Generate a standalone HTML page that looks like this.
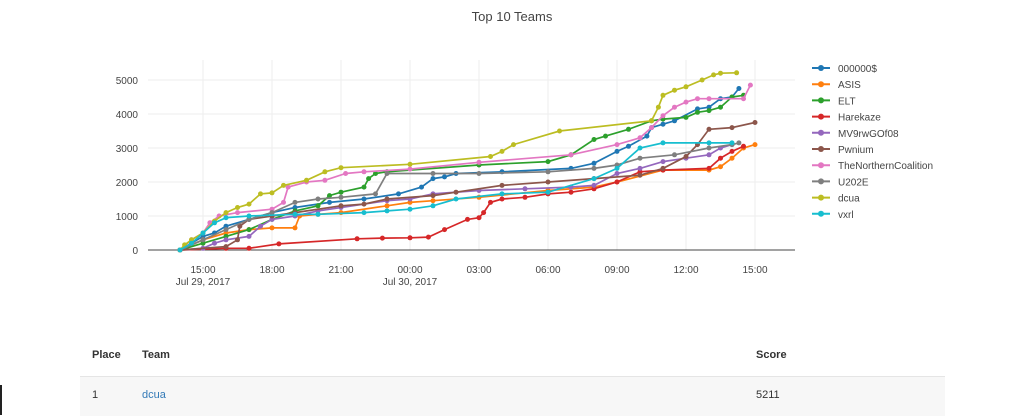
<!DOCTYPE html>
<html><head><style>
body{margin:0;width:1024px;height:415px;overflow:hidden;background:#fff;font-family:"Liberation Sans",sans-serif;position:relative}
.t{position:absolute;font-size:11px;color:#333}
</style></head><body>
<svg id="s" width="1024" height="330" style="position:absolute;left:0;top:0" font-family="Liberation Sans, sans-serif"></svg>
<div style="position:absolute;left:80px;top:376px;width:865px;height:39px;background:#f7f7f7;border-top:1px solid #e5e5e5"></div>
<div class="t" style="left:92px;top:349px;font-weight:bold">Place</div>
<div class="t" style="left:142px;top:349px;font-weight:bold">Team</div>
<div class="t" style="left:756px;top:349px;font-weight:bold">Score</div>
<div class="t" style="left:92px;top:389px">1</div>
<div class="t" style="left:142px;top:389px;color:#337ab7">dcua</div>
<div class="t" style="left:756px;top:389px">5211</div>
<div style="position:absolute;left:0;top:385px;width:2px;height:30px;background:#222"></div>
<script>
const S=document.getElementById('s');let h='';
h+='<text x="512" y="21" text-anchor="middle" font-size="13" fill="#444">Top 10 Teams</text>';
for(let i=1;i<=5;i++){const y=250-34*i;h+=`<line x1="148" x2="795" y1="${y}" y2="${y}" stroke="#eee"/>`;}
for(let i=0;i<=5;i++){const y=250-34*i;h+=`<text x="138" y="${y+4}" text-anchor="end" font-size="10" fill="#444">${i*1000}</text>`;}
const tl=['15:00','18:00','21:00','00:00','03:00','06:00','09:00','12:00','15:00'];
tl.forEach((t,i)=>{const x=203+69*i;h+=`<line x1="${x}" x2="${x}" y1="60" y2="250" stroke="#eee"/><text x="${x}" y="273" text-anchor="middle" font-size="10" fill="#444">${t}</text>`;});
h+='<text x="203" y="285" text-anchor="middle" font-size="10" fill="#444">Jul 29, 2017</text><text x="410" y="285" text-anchor="middle" font-size="10" fill="#444">Jul 30, 2017</text>';
h+='<line x1="148" x2="795" y1="250" y2="250" stroke="#444"/>';
const D=[
['000000$','#1f77b4',[[-1,0],[-.5,200],[0,400],[.5,500],[1,700],[2,900],[3,1100],[4,1250],[5.5,1400],[7,1500],[8.5,1650],[9.5,1850],[10,2100],[10.5,2150],[11,2250],[13,2300],[16,2400],[17,2550],[18,2900],[18.5,3050],[19.3,3350],[19.5,3600],[20,3700],[20.5,3800],[21.5,4150],[22,4200],[22.5,4450],[23,4500],[23.3,4750]]],
['ASIS','#ff7f0e',[[-1,0],[0,300],[1,500],[2,600],[3,650],[4,650],[4.2,1000],[5,1050],[6,1100],[8,1300],[9,1400],[10,1450],[12,1550],[15,1750],[17,1850],[18,2000],[20,2350],[22,2350],[22.5,2450],[23,2700],[23.5,3000],[24,3100]]],
['ELT','#2ca02c',[[-1,0],[0,200],[1,400],[2,600],[3,900],[4,1150],[5,1300],[5.5,1600],[6,1700],[7,1850],[7.2,2100],[7.5,2250],[8,2300],[12,2500],[15,2600],[16,2800],[17,3250],[17.5,3350],[18.5,3550],[19.5,3800],[20,3850],[21,3900],[21.5,4050],[22,4100],[22.5,4200],[23,4500],[23.5,4550]]],
['Harekaze','#d62728',[[-1,0],[1,50],[2,50],[3.3,180],[6.7,330],[7.8,350],[9,360],[9.8,380],[10.5,600],[11.5,900],[12,950],[12.2,1100],[12.5,1400],[13,1500],[14,1550],[15,1650],[16,1700],[17,1800],[18,2000],[19,2300],[20,2350],[22,2400],[22.5,2700],[23,2900],[23.5,3050]]],
['MV9rwGOf08','#9467bd',[[-1,0],[0,50],[.5,200],[1,300],[2,400],[2.5,700],[3,900],[4,1000],[5,1150],[6,1250],[8,1450],[9,1500],[10,1650],[12,1750],[14,1800],[16,1850],[17,1900],[18,2250],[19,2400],[20,2600],[21,2700],[22,2800],[22.5,3000],[23,3100]]],
['Pwnium','#8c564b',[[-1,0],[1,100],[1.5,300],[1.6,700],[2,900],[3,1000],[4,1100],[6,1300],[7,1350],[8,1500],[10,1600],[11,1700],[13,1900],[15,2000],[17,2100],[19,2200],[20,2400],[21,2750],[21.5,3100],[22,3550],[23,3600],[24,3750]]],
['TheNorthernCoalition','#e377c2',[[-1,0],[-.5,300],[0,500],[.3,800],[.7,1000],[1.5,1100],[3,1200],[3.5,1400],[3.7,1850],[4.5,2000],[5.3,2050],[6.2,2250],[7,2300],[9,2380],[12,2580],[16,2800],[18,3100],[19,3300],[19.5,3600],[20,3950],[20.5,4200],[21,4350],[21.5,4450],[22,4450],[23.5,4450],[23.8,4850]]],
['U202E','#7f7f7f',[[-1,0],[0,300],[1,600],[2,900],[3,1100],[4,1400],[5,1500],[6,1550],[7.5,1650],[8,2250],[10,2250],[12,2250],[15,2300],[17,2400],[18,2500],[19,2700],[20.5,2800],[22,3000],[23,3100],[23.3,3150]]],
['dcua','#bcbd22',[[-1,0],[-.8,150],[-.5,300],[0,500],[.5,850],[1,1100],[1.5,1250],[2,1350],[2.5,1650],[3,1680],[3.5,1900],[4.5,2050],[5.3,2300],[6,2420],[9,2520],[12.5,2750],[13,2900],[13.5,3100],[15.5,3500],[19.5,3800],[19.8,4200],[20,4550],[20.5,4700],[21,4800],[21.7,5000],[22.2,5150],[22.5,5200],[23.2,5211]]],
['vxrl','#17becf',[[-1,0],[-.5,200],[0,500],[.5,800],[1,950],[2,1000],[4,1050],[5,1050],[7,1100],[8,1150],[9,1200],[10,1300],[11,1500],[13,1650],[15,1700],[17,2100],[18,2400],[19,3000],[20,3150],[22,3150],[23,3150]]]];
D.forEach((d,i)=>{const p=d[2].map(q=>[(203+23*q[0]).toFixed(1),(250-.034*q[1]).toFixed(1)]);
h+=`<polyline points="${p.map(a=>a.join(',')).join(' ')}" fill="none" stroke="${d[1]}" stroke-width="1.7"/>`;
p.forEach(a=>h+=`<circle cx="${a[0]}" cy="${a[1]}" r="2.5" fill="${d[1]}"/>`);
const y=68+16.2*i;h+=`<line x1="812" x2="830" y1="${y}" y2="${y}" stroke="${d[1]}" stroke-width="2"/><circle cx="821" cy="${y}" r="3" fill="${d[1]}"/><text x="838" y="${y+4}" font-size="10" fill="#444">${d[0]}</text>`;});
S.innerHTML=h;
</script>
</body></html>
